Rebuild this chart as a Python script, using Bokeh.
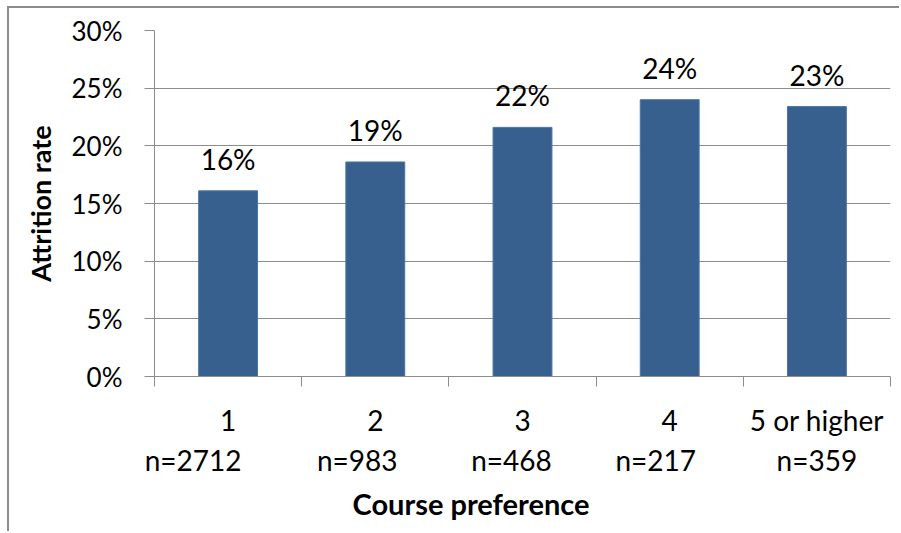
from bokeh.core.properties import value
from bokeh.embed import file_html
from bokeh.models import FixedTicker, LinearAxis, NumeralTickFormatter, Title
from bokeh.plotting import figure
from bokeh.resources import INLINE

# ---- data -------------------------------------------------------------
categories = ["1", "2", "3", "4", "5 or higher"]
sample_sizes = [2712, 983, 468, 217, 359]
attrition = [0.161, 0.186, 0.216, 0.240, 0.234]
y_ticks = [0.0, 0.05, 0.10, 0.15, 0.20, 0.25, 0.30]

# ---- styling ----------------------------------------------------------
FONT = "Lato"
GRAY = "#8c8c8c"
BAR_FILL = "#37608f"
BAR_LINE = "#4a73a4"
TEXT = "#000000"

W, H = 892, 525
LEFT, RIGHT, TOP, BOTTOM = 145, 11, 22, 157
CAT_PX = (W - LEFT - RIGHT) / len(categories)

# the sample-size line sits slightly left of each category centre
n_shift = [-35, -18, -11, -14, 0]

xc = [i + 0.5 for i in range(len(categories))]
bounds_x = [float(i) for i in range(len(categories) + 1)]
pct_labels = [f"{round(v * 100)}%" for v in attrition]
n_pos = [round(c + s / CAT_PX, 4) for c, s in zip(xc, n_shift)]
n_labels = [f"n={n}" for n in sample_sizes]

p = figure(
    width=W, height=H,
    x_range=(0, len(categories)), y_range=(0, 0.30),
    x_axis_location=None,
    output_backend="svg", toolbar_location=None,
    min_border_left=LEFT, min_border_right=RIGHT,
    min_border_top=TOP, min_border_bottom=BOTTOM,
)
p.outline_line_color = None
p.background_fill_color = "white"
p.border_fill_color = "white"
p.margin = (6, 0, 0, 7)
p.styles = {"border-top": f"2px solid {GRAY}", "border-left": f"2px solid {GRAY}"}

for g in p.xgrid:
    g.visible = False

# ---- y axis -----------------------------------------------------------
ax = p.yaxis[0]
ax.ticker = FixedTicker(ticks=y_ticks)
ax.formatter = NumeralTickFormatter(format="0%")
ax.axis_line_color = GRAY
ax.major_tick_line_color = GRAY
ax.major_tick_out = 10
ax.major_tick_in = 0
ax.minor_tick_line_color = None
ax.major_label_standoff = 22
ax.major_label_text_font = FONT
ax.major_label_text_font_size = "26px"
ax.major_label_text_color = TEXT
ax.axis_label = "Attrition rate"
ax.axis_label_text_font = FONT
ax.axis_label_text_font_size = "27px"
ax.axis_label_text_font_style = "bold"
ax.axis_label_text_color = TEXT
ax.axis_label_standoff = 12

yg = p.ygrid[0]
yg.ticker = FixedTicker(ticks=y_ticks)
yg.grid_line_color = GRAY
yg.grid_line_width = 1

# ---- x axis: boundary ticks + category names --------------------------
cat_axis = LinearAxis(
    ticker=FixedTicker(ticks=xc, minor_ticks=bounds_x),
    major_label_overrides=dict(zip(xc, categories)),
    axis_line_color=GRAY,
    major_tick_line_color=None, major_tick_out=0, major_tick_in=0,
    minor_tick_line_color=GRAY, minor_tick_out=10, minor_tick_in=0,
    major_label_standoff=16,
    major_label_text_font=FONT, major_label_text_font_size="28px",
    major_label_text_color=TEXT,
)
p.add_layout(cat_axis, "below")

# second caption line with the sample sizes
n_axis = LinearAxis(
    ticker=FixedTicker(ticks=n_pos, minor_ticks=[]),
    major_label_overrides=dict(zip(n_pos, n_labels)),
    axis_line_color=None,
    major_tick_line_color=None, major_tick_out=0, major_tick_in=0,
    minor_tick_line_color=None,
    major_label_standoff=3,
    major_label_text_font=FONT, major_label_text_font_size="28px",
    major_label_text_color=TEXT,
)
p.add_layout(n_axis, "below")

# x axis title
p.add_layout(Title(
    text="Course preference", align="left", offset=198, standoff=9,
    text_font=FONT, text_font_size="29px", text_font_style="bold",
    text_color=TEXT,
), "below")

# ---- bars and value labels ---------------------------------------------
p.vbar(x=xc, top=attrition, bottom=0, width=0.4,
       fill_color=BAR_FILL, line_color=BAR_LINE, line_width=1)

p.text(x=xc, y=attrition, text=pct_labels, y_offset=-32,
       text_align="center", text_baseline="middle",
       text_font=value(FONT), text_font_size="28px", text_color=TEXT)

open("out.html", "w").write(file_html(p, INLINE))
